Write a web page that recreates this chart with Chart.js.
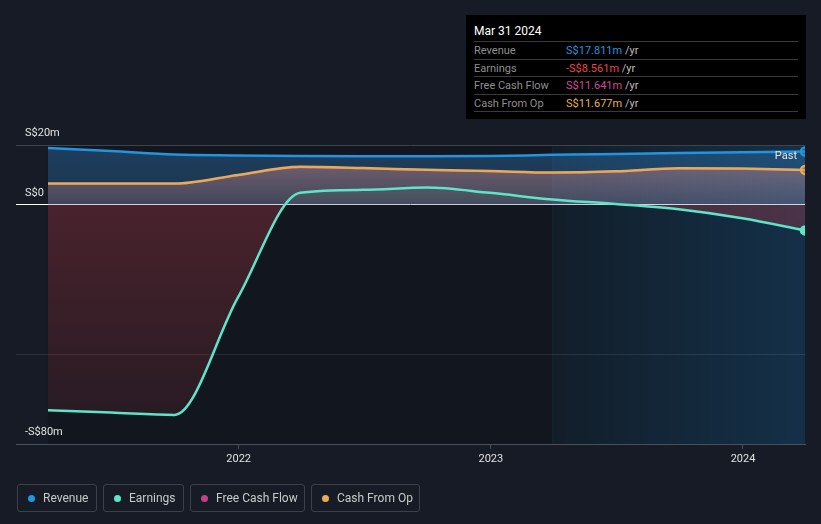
<!DOCTYPE html>
<html><head><meta charset="utf-8">
<script src="https://cdn.jsdelivr.net/npm/chart.js@4.4.1/dist/chart.umd.min.js"></script>
<style>
html,body{margin:0;padding:0;background:#161b26;width:821px;height:524px;overflow:hidden;font-family:Roboto,"Noto Sans",sans-serif;}
#wrap{position:relative;width:821px;height:524px;}
#c{position:absolute;left:0;top:0;}
#tip{position:absolute;left:466px;top:15px;width:340px;height:104px;background:#000;}
#tip .title{position:absolute;left:8px;top:8px;font-size:12px;line-height:16px;color:#fff;}
#tip .row{position:absolute;left:8px;width:324px;height:17px;border-top:1px solid #3a3a3a;font-size:11px;line-height:17px;color:#8f8f8f;}
#tip .row .lab{position:absolute;left:0;top:0;}
#tip .row .val{position:absolute;left:92px;top:0;}
#tip .row .unit{color:#bdbdbd;}
#tip .last{position:absolute;left:8px;width:324px;top:96px;border-top:1px solid #3a3a3a;}
#past{position:absolute;right:24px;top:149px;font-size:11px;line-height:14px;color:#e6e6e6;}
#legend{position:absolute;left:17px;top:484px;height:28px;display:flex;gap:6px;}
#legend .item{box-sizing:border-box;height:28px;border:1px solid #3b404b;border-radius:3px;display:flex;align-items:center;padding:0 0 0 10px;font-size:12px;color:#c9c9c9;}
#legend .dot{width:7px;height:7px;border-radius:50%;margin-right:8px;}
</style></head>
<body><div id="wrap">
<canvas id="c" width="821" height="524"></canvas>
<div id="tip">
  <div class="title">Mar 31 2024</div>
  <div class="row" style="top:26px"><span class="lab">Revenue</span><span class="val"><span style="color:#2394df">S$17.811m</span> <span class="unit">/yr</span></span></div>
  <div class="row" style="top:43.5px"><span class="lab">Earnings</span><span class="val"><span style="color:#e8474c">-S$8.561m</span> <span class="unit">/yr</span></span></div>
  <div class="row" style="top:61px"><span class="lab">Free Cash Flow</span><span class="val"><span style="color:#cf4b96">S$11.641m</span> <span class="unit">/yr</span></span></div>
  <div class="row" style="top:78.5px"><span class="lab">Cash From Op</span><span class="val"><span style="color:#e9b04f">S$11.677m</span> <span class="unit">/yr</span></span></div>
  <div class="last"></div>
</div>
<div id="past">Past</div>
<div id="legend">
  <div class="item" style="width:80px"><span class="dot" style="background:#2394df"></span>Revenue</div>
  <div class="item" style="width:81px"><span class="dot" style="background:#5fe3c9"></span>Earnings</div>
  <div class="item" style="width:115px"><span class="dot" style="background:#c4408a"></span>Free Cash Flow</div>
  <div class="item" style="width:109px"><span class="dot" style="background:#e8aa55"></span>Cash From Op</div>
</div>
</div>
<script>
// ---- data (S$ millions, trailing twelve months) ----
const dates = ["2021-03-31","2021-06-30","2021-09-30","2021-12-31","2022-03-31","2022-06-30","2022-09-30","2022-12-31","2023-03-31","2023-06-30","2023-09-30","2023-12-31","2024-03-31"];
const revenue      = [19.0, 18.0, 16.8, 16.5, 16.3, 16.2, 16.2, 16.3, 16.7, 17.0, 17.3, 17.6, 17.811];
const earnings     = [-68.7, -69.5, -70.3, -31.0, 4.0, 5.0, 5.8, 4.0, 1.8, 0.3, -1.5, -4.5, -8.561];
const freeCashFlow = [7.0, 7.0, 7.0, 9.9, 12.6, 12.2, 11.6, 11.2, 10.7, 11.1, 12.1, 12.0, 11.641];
const cashFromOp   = [7.1, 7.1, 7.1, 10.0, 12.7, 12.3, 11.7, 11.3, 10.8, 11.2, 12.2, 12.1, 11.677];
const yTicks = [-80, -50, 0, 20];
const yTickLabels = {"20":"S$20m","0":"S$0","-80":"-S$80m"};
const xTicks = [2022, 2023, 2024];
const pastStart = "2023-03-31";
const axisStart = 2021.117; // left edge of axis (before first data point)

function toYear(s){
  const d = new Date(s + "T00:00:00Z");
  const y = d.getUTCFullYear();
  const start = Date.UTC(y,0,1), end = Date.UTC(y+1,0,1);
  return y + (d.getTime()-start)/(end-start);
}
const xs = dates.map(toYear);
const pts = arr => arr.map((v,i)=>({x:xs[i], y:v}));
const lastIdx = dates.length-1;
const endPoint = (c)=> c.dataIndex===lastIdx ? 4 : 0;

const bgPlugin = {
  id:'bgRegions',
  beforeDraw(chart){
    const {ctx, chartArea:a, scales:{x}} = chart;
    const x0 = x.getPixelForValue(xs[0]);
    const xp = x.getPixelForValue(toYear(pastStart));
    ctx.save();
    ctx.fillStyle = '#12161e';
    ctx.fillRect(x0, a.top, xp-x0, a.bottom-a.top);
    const g = ctx.createLinearGradient(xp,0,a.right,0);
    g.addColorStop(0,'#121e2a');
    g.addColorStop(1,'#143048');
    ctx.fillStyle = g;
    ctx.fillRect(xp, a.top, a.right-xp, a.bottom-a.top);
    ctx.fillStyle = 'rgba(255,255,255,0.04)';
    ctx.fillRect(xp, a.top, 1, a.bottom-a.top);
    ctx.restore();
  }
};

const chart = new Chart(document.getElementById('c'), {
  type:'line',
  data:{datasets:[
    {label:'Revenue', data:pts(revenue), borderColor:'#2394df', borderWidth:2.5, fill:'origin',
     backgroundColor:'rgba(50,130,200,0.33)', order:4},
    {label:'Free Cash Flow', data:pts(freeCashFlow), borderColor:'#c4408a', borderWidth:2, fill:false, order:3, pointRadius:0},
    {label:'Cash From Op', data:pts(cashFromOp), borderColor:'#e8aa55', borderWidth:2.5, fill:'origin',
     backgroundColor:'rgba(215,135,135,0.35)', order:2},
    {label:'Earnings', data:pts(earnings), borderColor:'#5fe3c9', borderWidth:2.5,
     fill:{target:'origin', above:'rgba(94,224,200,0.05)', below:'rgba(190,60,75,0.25)'}, order:1}
  ]},
  options:{
    responsive:false, animation:false, devicePixelRatio:1,
    layout:{padding:{left:16,right:16,top:145,bottom:0}},
    elements:{
      line:{cubicInterpolationMode:'monotone', tension:0.4},
      point:{radius:endPoint, hoverRadius:endPoint, borderColor:'#ffffff', borderWidth:1,
             backgroundColor:(c)=>c.dataset.borderColor}
    },
    datasets:{line:{clip:0}},
    plugins:{legend:{display:false}, tooltip:{enabled:false}},
    scales:{
      x:{type:'linear', min:axisStart, max:toYear(dates[lastIdx]),
         afterBuildTicks:(s)=>{s.ticks = xTicks.map(v=>({value:v}));},
         afterFit:(s)=>{s.height = 80;},
         ticks:{color:'#e2e2e2', font:{family:'Roboto', size:11}, padding:4, maxRotation:0,
                callback:(v)=>String(v)},
         grid:{drawOnChartArea:false, drawTicks:true, tickLength:5, color:'#4a4f58'},
         border:{display:true, color:'#4a4f58', width:1}},
      y:{min:-80, max:20,
         afterBuildTicks:(s)=>{s.ticks = yTicks.map(v=>({value:v}));},
         afterFit:(s)=>{s.width = 0;},
         ticks:{mirror:true, padding:9, labelOffset:-12, color:'#e2e2e2', font:{family:'Roboto', size:11},
                callback:(v)=>yTickLabels[String(v)] || ''},
         grid:{drawTicks:false,
               color:(c)=> c.tick.value===0 ? '#ffffff' : (c.tick.value===20 ? '#3d424b' : (c.tick.value===-50 ? 'rgba(255,255,255,0.09)' : 'rgba(0,0,0,0)')),
               lineWidth:1},
         border:{display:false}}
    }
  },
  plugins:[bgPlugin]
});

// gradients built from the chart's own scales
(function(){
  const c2 = chart.ctx, a = chart.chartArea, y = chart.scales.y;
  const zero = y.getPixelForValue(0);
  const top = y.getPixelForValue(20);
  const cfoTop = y.getPixelForValue(Math.max(...cashFromOp));
  const gRev = c2.createLinearGradient(0, top, 0, zero);
  gRev.addColorStop(0,'rgba(50,130,200,0.38)'); gRev.addColorStop(1,'rgba(50,130,200,0.28)');
  const gCfo = c2.createLinearGradient(0, cfoTop, 0, zero);
  gCfo.addColorStop(0,'rgba(215,138,136,0.42)'); gCfo.addColorStop(1,'rgba(215,138,136,0.2)');
  const gEarn = c2.createLinearGradient(0, zero, 0, a.bottom);
  gEarn.addColorStop(0,'rgba(190,60,75,0.32)'); gEarn.addColorStop(1,'rgba(190,60,75,0.1)');
  chart.data.datasets[0].backgroundColor = gRev;
  chart.data.datasets[2].backgroundColor = gCfo;
  chart.data.datasets[3].fill = {target:'origin', above:'rgba(94,224,200,0.05)', below:gEarn};
  chart.update('none');
})();
</script>
</body></html>
